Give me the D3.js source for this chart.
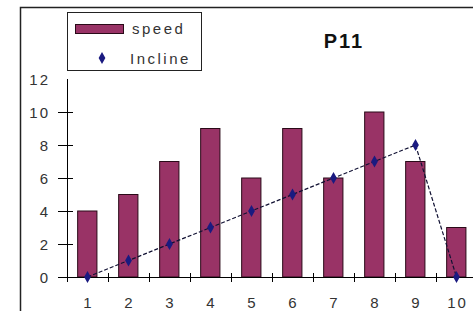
<!DOCTYPE html>
<html>
<head>
<meta charset="utf-8">
<script src="https://cdn.jsdelivr.net/npm/d3@7"></script>
<style>
  body { margin: 0; background: #fff; }
  svg { display: block; font-family: "Liberation Sans", Arial, sans-serif; }
</style>
</head>
<body>
<svg id="chart" width="473" height="311"></svg>
<script>
const categories = ["1", "2", "3", "4", "5", "6", "7", "8", "9", "10"];
const speed = [4, 5, 7, 9, 6, 9, 6, 10, 7, 3];
const incline = [0, 1, 2, 3, 4, 5, 6, 7, 8, 0];
const yTicks = [0, 2, 4, 6, 8, 10, 12];

const svg = d3.select("#chart");
const margin = { left: 67, top: 79, bottom: 34 };
const plotW = 410;
const plotH = 311 - margin.top - margin.bottom;

// outer frame (only top + left fall inside the picture)
svg.append("path")
  .attr("d", "M20.5,311 V7.5 H473")
  .attr("fill", "none")
  .attr("stroke", "#222")
  .attr("stroke-width", 1.5);

const g = svg.append("g").attr("transform", `translate(${margin.left},${margin.top})`);

const x = d3.scaleBand().domain(categories).range([0, plotW]).paddingInner(0).paddingOuter(0);
const y = d3.scaleLinear().domain([0, 12]).range([plotH, 0]);

// bars
g.selectAll(".bar")
  .data(speed)
  .join("rect")
  .attr("class", "bar")
  .attr("x", (d, i) => x(categories[i]) + x.bandwidth() * 0.26)
  .attr("y", (d) => y(d))
  .attr("width", x.bandwidth() * 0.47)
  .attr("height", (d) => y(0) - y(d))
  .attr("fill", "#993366")
  .attr("stroke", "#2a0a18")
  .attr("stroke-width", 1);

// y axis
g.append("line")
  .attr("x1", 0.5).attr("x2", 0.5)
  .attr("y1", 0).attr("y2", plotH)
  .attr("stroke", "#000");
g.selectAll(".ytick")
  .data(yTicks.filter((d) => d < 12))
  .join("line")
  .attr("x1", -9).attr("x2", 6)
  .attr("y1", (d) => Math.round(y(d)) + 0.5)
  .attr("y2", (d) => Math.round(y(d)) + 0.5)
  .attr("stroke", "#000");
g.selectAll(".ylab")
  .data(yTicks)
  .join("text")
  .attr("x", -17)
  .attr("y", (d) => y(d) + 5.5)
  .attr("text-anchor", "end")
  .attr("font-size", 15)
  .attr("letter-spacing", 2)
  .attr("fill", "#333")
  .text((d) => d);

// x axis
g.append("line")
  .attr("x1", 0).attr("x2", plotW)
  .attr("y1", plotH + 0.5).attr("y2", plotH + 0.5)
  .attr("stroke", "#000");
g.selectAll(".xtick")
  .data(categories)
  .join("line")
  .attr("x1", (d) => Math.round(x(d)) + 0.5)
  .attr("x2", (d) => Math.round(x(d)) + 0.5)
  .attr("y1", plotH - 4).attr("y2", plotH + 5)
  .attr("stroke", "#000");
g.selectAll(".xlab")
  .data(categories)
  .join("text")
  .attr("x", (d) => x(d) + x.bandwidth() / 2 + 1)
  .attr("y", plotH + 31)
  .attr("text-anchor", "middle")
  .attr("font-size", 15)
  .attr("letter-spacing", 2)
  .attr("fill", "#333")
  .text((d) => d);

// incline line + markers
const line = d3.line()
  .x((d, i) => x(categories[i]) + x.bandwidth() / 2)
  .y((d) => y(d));
g.append("path")
  .datum(incline)
  .attr("d", line)
  .attr("fill", "none")
  .attr("stroke", "#111133")
  .attr("stroke-width", 1.2)
  .attr("stroke-dasharray", "4,2");
g.selectAll(".mark")
  .data(incline)
  .join("path")
  .attr("class", "mark")
  .attr("d", d3.symbol(d3.symbolDiamond, 40))
  .attr("transform", (d, i) => `translate(${x(categories[i]) + x.bandwidth() / 2},${y(d)})`)
  .attr("fill", "#1a1a80");

// title
svg.append("text")
  .attr("x", 344).attr("y", 48)
  .attr("text-anchor", "middle")
  .attr("font-size", 20)
  .attr("letter-spacing", 2)
  .attr("font-weight", "bold")
  .attr("fill", "#111")
  .text("P11");

// legend
const leg = svg.append("g");
leg.append("rect")
  .attr("x", 67.5).attr("y", 12.5)
  .attr("width", 134).attr("height", 58)
  .attr("fill", "#fff")
  .attr("stroke", "#222");
leg.append("rect")
  .attr("x", 75.5).attr("y", 24.5)
  .attr("width", 48).attr("height", 9)
  .attr("fill", "#993366")
  .attr("stroke", "#2a0a18");
leg.append("text")
  .attr("x", 132).attr("y", 34)
  .attr("font-size", 15)
  .attr("letter-spacing", 2.5)
  .attr("fill", "#333")
  .text("speed");
leg.append("path")
  .attr("d", d3.symbol(d3.symbolDiamond, 40))
  .attr("transform", "translate(102,58)")
  .attr("fill", "#1a1a80");
leg.append("text")
  .attr("x", 130).attr("y", 64)
  .attr("font-size", 15)
  .attr("letter-spacing", 2.5)
  .attr("fill", "#333")
  .text("Incline");
</script>
</body>
</html>
